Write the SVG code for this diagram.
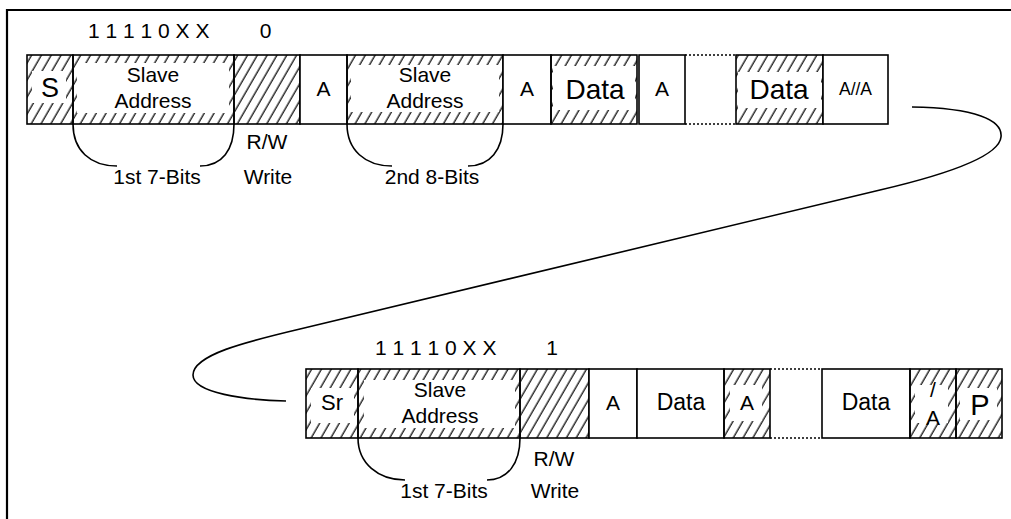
<svg xmlns="http://www.w3.org/2000/svg" width="1011" height="519" viewBox="0 0 1011 519">
<defs>
<pattern id="hatch" patternUnits="userSpaceOnUse" width="8.5" height="10" patternTransform="rotate(30)">
<line x1="4" y1="-1" x2="4" y2="11" stroke="#2a2a2a" stroke-width="1.5"/>
</pattern>
</defs>
<style>
.hb{fill:url(#hatch);stroke:#000;stroke-width:1.6}
.wb{fill:#fff;stroke:#000;stroke-width:1.6}
.in{fill:#fff;stroke:none}
.dot{stroke:#000;stroke-width:1.6;stroke-dasharray:2,2;fill:none}
.t{font-family:"Liberation Sans",Arial,sans-serif;fill:#000;text-anchor:middle}
.ts{font-family:"Liberation Sans",Arial,sans-serif;fill:#000;text-anchor:start}
.c{fill:none;stroke:#000;stroke-width:1.6}
</style>
<rect x="0" y="0" width="1011" height="519" fill="#fff"/>
<path d="M7,519 L7,10 L1011,10" fill="none" stroke="#000" stroke-width="2.2"/>

<!-- top row labels -->
<text class="ts" x="88" y="38" font-size="21">1 1 1 1 0 X X</text>
<text class="t" x="265.5" y="38" font-size="21">0</text>

<g id="S">
<rect class="hb" x="27" y="55" width="46" height="69"/>
<rect class="in" x="32" y="71" width="34" height="32"/>
<text class="t" x="50" y="97" font-size="27">S</text>
</g>
<g id="slave1">
<rect class="hb" x="73" y="55" width="161" height="69"/>
<rect class="in" x="77" y="63" width="152" height="50"/>
<text class="t" x="153" y="82" font-size="21">Slave</text>
<text class="t" x="153" y="108" font-size="21">Address</text>
</g>
<g id="rw1">
<rect class="hb" x="234" y="55" width="66" height="69"/>
</g>
<g id="a1">
<rect class="wb" x="300" y="55" width="47" height="69"/>
<text class="t" x="323.5" y="96" font-size="21">A</text>
</g>
<g id="slave2">
<rect class="hb" x="347" y="55" width="156" height="69"/>
<rect class="in" x="351" y="65" width="148" height="47"/>
<text class="t" x="425" y="82" font-size="21">Slave</text>
<text class="t" x="425" y="108" font-size="21">Address</text>
</g>
<g id="a2">
<rect class="wb" x="503" y="55" width="48" height="69"/>
<text class="t" x="527" y="96" font-size="21">A</text>
</g>
<g id="data1">
<rect class="hb" x="551" y="55" width="86" height="69"/>
<rect class="in" x="553" y="66" width="82" height="44"/>
<text class="t" x="595" y="99" font-size="28">Data</text>
</g>
<g id="a3">
<rect class="wb" x="639" y="55" width="46" height="69"/>
<text class="t" x="662" y="96" font-size="21">A</text>
</g>
<g id="gap1">
<line class="dot" x1="685" y1="55" x2="736" y2="55"/>
<line class="dot" x1="685" y1="124" x2="736" y2="124"/>
</g>
<g id="data2">
<rect class="hb" x="736" y="55" width="87" height="69"/>
<rect class="in" x="738" y="72" width="83" height="36"/>
<text class="t" x="779" y="99" font-size="28">Data</text>
</g>
<g id="aa">
<rect class="wb" x="823" y="55" width="65" height="69"/>
<text class="t" x="855.5" y="95" font-size="17.5">A//A</text>
</g>

<text class="t" x="267" y="149" font-size="21">R/W</text>
<text class="t" x="268" y="184" font-size="21">Write</text>
<text class="t" x="157" y="184" font-size="21">1st 7-Bits</text>
<text class="t" x="432" y="184" font-size="21">2nd 8-Bits</text>

<!-- bottom row -->
<text class="ts" x="375" y="355" font-size="21">1 1 1 1 0 X X</text>
<text class="t" x="552" y="355" font-size="21">1</text>

<g id="Sr">
<rect class="hb" x="306" y="369" width="52" height="69"/>
<rect class="in" x="311" y="388" width="43" height="35"/>
<text class="t" x="332" y="410" font-size="22">Sr</text>
</g>
<g id="slave3">
<rect class="hb" x="358" y="369" width="162" height="69"/>
<rect class="in" x="364" y="380" width="151" height="48"/>
<text class="t" x="440" y="397" font-size="21">Slave</text>
<text class="t" x="440" y="423" font-size="21">Address</text>
</g>
<g id="rw2">
<rect class="hb" x="520" y="369" width="69" height="69"/>
</g>
<g id="a4">
<rect class="wb" x="589" y="369" width="48" height="69"/>
<text class="t" x="613" y="410" font-size="21">A</text>
</g>
<g id="data3">
<rect class="wb" x="637" y="369" width="87" height="69"/>
<text class="t" x="681" y="410" font-size="23">Data</text>
</g>
<g id="a5">
<rect class="hb" x="724" y="369" width="46" height="69"/>
<rect class="in" x="730" y="385" width="32" height="36"/>
<text class="t" x="747" y="410" font-size="21">A</text>
</g>
<g id="gap2">
<line class="dot" x1="770" y1="369" x2="822" y2="369"/>
<line class="dot" x1="770" y1="438" x2="822" y2="438"/>
</g>
<g id="data4">
<rect class="wb" x="822" y="369" width="88" height="69"/>
<text class="t" x="866" y="410" font-size="23">Data</text>
</g>
<g id="na">
<rect class="hb" x="910" y="369" width="46" height="69"/>
<rect class="in" x="915" y="385" width="33" height="38"/>
<text class="t" x="933" y="397" font-size="21">/</text>
<text class="t" x="933" y="425" font-size="21">A</text>
</g>
<g id="P">
<rect class="hb" x="956" y="369" width="46" height="69"/>
<rect class="in" x="960" y="388" width="37" height="32"/>
<text class="t" x="980" y="415" font-size="29">P</text>
</g>

<text class="t" x="554" y="466" font-size="21">R/W</text>
<text class="t" x="555" y="498" font-size="21">Write</text>
<text class="t" x="444" y="498" font-size="21">1st 7-Bits</text>

<g id="connectors">
<path class="c" d="M912,107 C975,108 1003,120 1001,137 C999,158 940,176 880,190 L300,329 C245,342 193,355 193,375 C193,393 245,400 286,401"/>
<path class="c" d="M73,124 C73,150 90,166 117,166"/>
<path class="c" d="M200,166 C222,166 234,150 234,124"/>
<path class="c" d="M347,124 C347,150 365,166 392,166"/>
<path class="c" d="M468,166 C490,166 503,150 503,124"/>
<path class="c" d="M358,438 C358,463 378,480 405,480"/>
<path class="c" d="M487,480 C508,480 520,463 520,438"/>
</g>
</svg>
